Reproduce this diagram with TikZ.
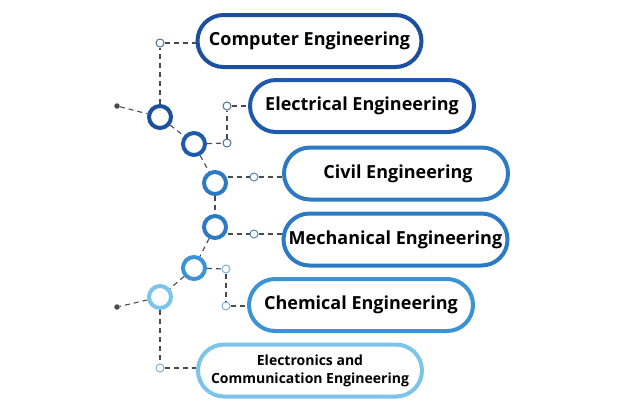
\documentclass[tikz,border=0pt]{standalone}
\usepackage{fontspec}
\setmainfont{Open Sans}
\usetikzlibrary{shapes.misc}
\definecolor{cA}{HTML}{1C4F9C}
\definecolor{cB}{HTML}{1E5AA9}
\definecolor{cC}{HTML}{2C7AC4}
\definecolor{cD}{HTML}{3A93D5}
\definecolor{cE}{HTML}{7CC4EA}
\definecolor{sA}{HTML}{4E6D92}
\definecolor{sB}{HTML}{5383B4}
\definecolor{sC}{HTML}{7AB2DA}
\definecolor{lnk}{HTML}{4A4A4A}
\tikzset{
  pill/.style={rounded rectangle, draw=#1, line width=4pt, fill=white,
    minimum width=224pt, minimum height=52pt, inner sep=0pt,
    font=\fontsize{18}{20}\selectfont\bfseries, align=center},
  ring/.style={circle, draw=#1, line width=4pt, fill=white, minimum size=22pt, inner sep=0pt},
  knob/.style={circle, draw=#1, line width=1pt, fill=white, minimum size=8pt, inner sep=0pt},
  dotend/.style={circle, fill=lnk, minimum size=5.5pt, inner sep=0pt},
  link/.style={draw=lnk, line width=1.1pt, dash pattern=on 5pt off 4pt}
}
\begin{document}
\begin{tikzpicture}[x=1pt,y=-1pt]
\useasboundingbox (0,0) rectangle (624,400);
% boxes
\node[pill=cA] (b1) at (309.5,41) {Computer Engineering};
\node[pill=cB] (b2) at (362,106) {Electrical Engineering};
\node[pill=cC] (b3) at (396,173.5) {\hspace*{4pt}Civil Engineering};
\node[pill=cC] (b4) at (395.5,239.5) {Mechanical Engineering};
\node[pill=cD] (b5) at (361,305) {Chemical Engineering};
\node[pill=cE, font=\fontsize{14}{18}\selectfont\bfseries] (b6) at (310,370.5) {Electronics and\\Communication Engineering};
% rings
\node[ring=cA] (c1) at (160,117) {};
\node[ring=cB] (c2) at (194,144) {};
\node[ring=cC] (c3) at (215,183) {};
\node[ring=cC] (c4) at (215,227) {};
\node[ring=cD] (c5) at (194,268) {};
\node[ring=cE] (c6) at (160,297) {};
% end dots
\node[dotend] (d1) at (117,106) {};
\node[dotend] (d2) at (117,307) {};
% knobs
\node[knob=sA] (s1) at (160,43) {};
\node[knob=sA] (s2) at (227,106) {};
\node[knob=sA] (s3) at (227,143) {};
\node[knob=sB] (s4) at (254,177) {};
\node[knob=sB] (s5) at (254,234) {};
\node[knob=sC] (s6) at (226,269) {};
\node[knob=sC] (s7) at (226,306) {};
\node[knob=sC] (s8) at (160,368) {};
% links
\path[link] (d1) -- (c1);
\path[link] (c1) -- (c2);
\path[link] (c2) -- (c3);
\path[link] (c3) -- (c4);
\path[link] (c4) -- (c5);
\path[link] (c5) -- (c6);
\path[link] (c6) -- (d2);
\path[link] (c1) -- (s1);
\path[link] (s1) -- (b1.west |- s1);
\path[link] (c2) -- (s3);
\path[link] (s3) -- (s2);
\path[link] (s2) -- (b2.west |- s2);
\path[link] (c3.east |- s4) -- (s4);
\path[link] (s4) -- (b3.west |- s4);
\path[link] (c4.east |- s5) -- (s5);
\path[link] (s5) -- (b4.west |- s5);
\path[link] (c5) -- (s6);
\path[link] (s6) -- (s7);
\path[link] (s7) -- (b5.west |- s7);
\path[link] (c6) -- (s8);
\path[link] (s8) -- (b6.west |- s8);
\end{tikzpicture}
\end{document}
